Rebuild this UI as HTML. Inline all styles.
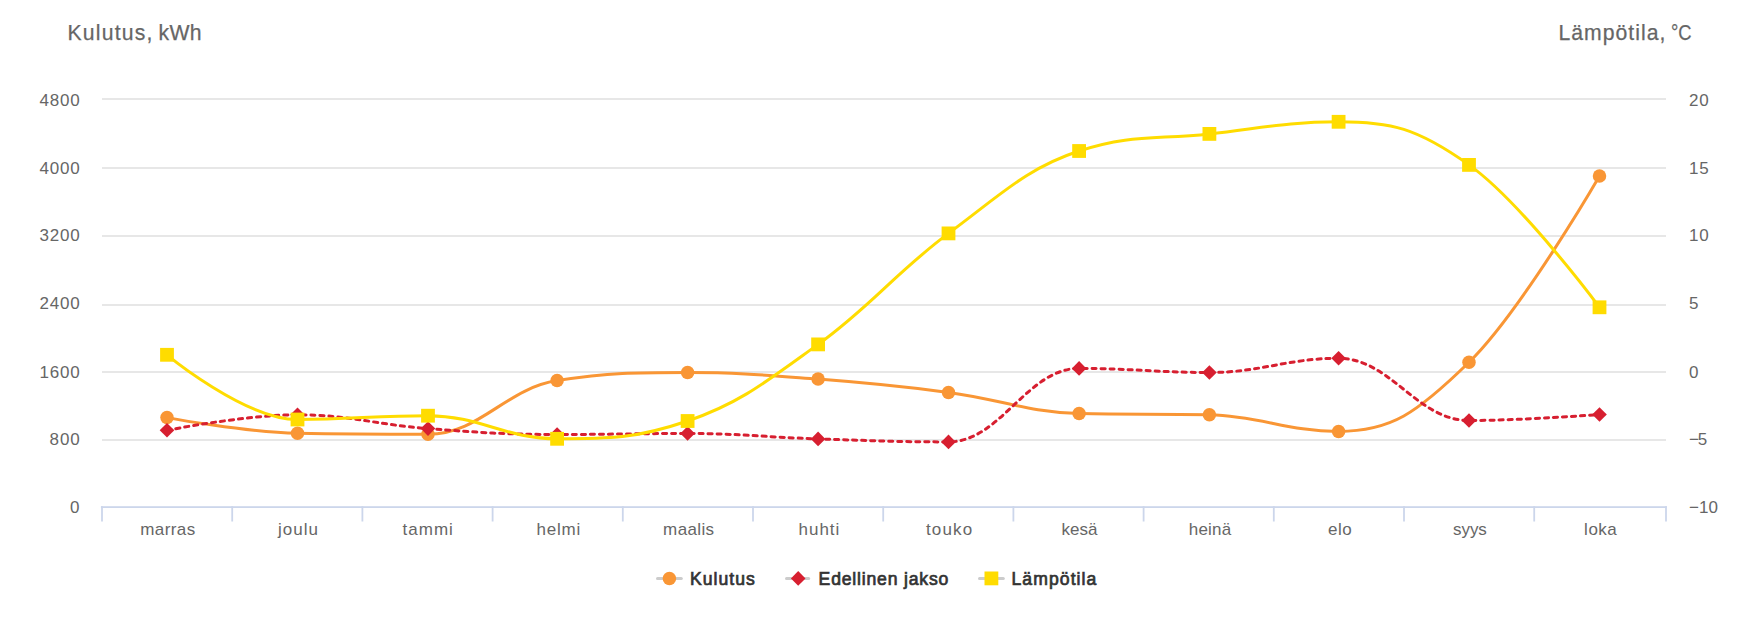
<!DOCTYPE html><html><head><meta charset="utf-8"><title>chart</title>
<style>html,body{margin:0;padding:0;background:#fff;}body{width:1744px;height:618px;overflow:hidden;}svg{display:block;position:absolute;left:0;top:0;}text{font-family:"Liberation Sans",sans-serif;}</style></head><body>
<svg width="1744" height="618" viewBox="0 0 1744 618">
<rect x="0" y="0" width="1744" height="618" fill="#ffffff"/>
<rect x="102.0" y="98.0" width="1564.0" height="2" fill="#e7e7e7"/>
<rect x="102.0" y="167.0" width="1564.0" height="2" fill="#e7e7e7"/>
<rect x="102.0" y="235.0" width="1564.0" height="2" fill="#e7e7e7"/>
<rect x="102.0" y="304.0" width="1564.0" height="2" fill="#e7e7e7"/>
<rect x="102.0" y="371.0" width="1564.0" height="2" fill="#e7e7e7"/>
<rect x="102.0" y="439.0" width="1564.0" height="2" fill="#e7e7e7"/>
<rect x="100.9" y="506.2" width="1566.0" height="1.8" fill="#ccd6eb"/>
<rect x="101.10" y="506.2" width="1.8" height="15.3" fill="#ccd6eb"/>
<rect x="231.30" y="506.2" width="1.8" height="15.3" fill="#ccd6eb"/>
<rect x="361.50" y="506.2" width="1.8" height="15.3" fill="#ccd6eb"/>
<rect x="491.70" y="506.2" width="1.8" height="15.3" fill="#ccd6eb"/>
<rect x="621.90" y="506.2" width="1.8" height="15.3" fill="#ccd6eb"/>
<rect x="752.10" y="506.2" width="1.8" height="15.3" fill="#ccd6eb"/>
<rect x="882.30" y="506.2" width="1.8" height="15.3" fill="#ccd6eb"/>
<rect x="1012.50" y="506.2" width="1.8" height="15.3" fill="#ccd6eb"/>
<rect x="1142.70" y="506.2" width="1.8" height="15.3" fill="#ccd6eb"/>
<rect x="1272.90" y="506.2" width="1.8" height="15.3" fill="#ccd6eb"/>
<rect x="1403.10" y="506.2" width="1.8" height="15.3" fill="#ccd6eb"/>
<rect x="1533.30" y="506.2" width="1.8" height="15.3" fill="#ccd6eb"/>
<rect x="1665.10" y="506.2" width="1.8" height="15.3" fill="#ccd6eb"/>
<text x="67.4" y="40" fill="#666666" font-size="21.2" stroke="#666666" stroke-width="0.25" textLength="85" lengthAdjust="spacing">Kulutus,</text>
<text x="158.6" y="40" fill="#666666" font-size="21.2" stroke="#666666" stroke-width="0.25" textLength="43" lengthAdjust="spacing">kWh</text>
<text x="1558.4" y="40" fill="#666666" font-size="21.2" stroke="#666666" stroke-width="0.25" textLength="107" lengthAdjust="spacing">Lämpötila,</text>
<text x="1671.0" y="40" fill="#666666" font-size="21.2" stroke="#666666" stroke-width="0.25" textLength="20.6" lengthAdjust="spacingAndGlyphs">°C</text>
<text x="39.4" y="105.8" fill="#666666" font-size="17" textLength="40.4" lengthAdjust="spacing">4800</text>
<text x="39.4" y="174.0" fill="#666666" font-size="17" textLength="40.4" lengthAdjust="spacing">4000</text>
<text x="39.4" y="240.8" fill="#666666" font-size="17" textLength="40.4" lengthAdjust="spacing">3200</text>
<text x="39.4" y="309.4" fill="#666666" font-size="17" textLength="40.4" lengthAdjust="spacing">2400</text>
<text x="39.4" y="377.6" fill="#666666" font-size="17" textLength="40.4" lengthAdjust="spacing">1600</text>
<text x="49.6" y="444.7" fill="#666666" font-size="17" textLength="30.2" lengthAdjust="spacing">800</text>
<text x="70.0" y="512.8" fill="#666666" font-size="17" textLength="9.8" lengthAdjust="spacing">0</text>
<text x="1689" y="105.8" fill="#666666" font-size="17" textLength="19.8" lengthAdjust="spacing">20</text>
<text x="1689" y="174.0" fill="#666666" font-size="17" textLength="19.8" lengthAdjust="spacing">15</text>
<text x="1689" y="240.8" fill="#666666" font-size="17" textLength="19.8" lengthAdjust="spacing">10</text>
<text x="1689" y="309.4" fill="#666666" font-size="17">5</text>
<text x="1689" y="377.6" fill="#666666" font-size="17">0</text>
<text x="1689" y="444.7" fill="#666666" font-size="17" textLength="18.2" lengthAdjust="spacing">−5</text>
<text x="1689" y="512.8" fill="#666666" font-size="17" textLength="29.0" lengthAdjust="spacing">−10</text>
<text x="140.2" y="534.7" fill="#666666" font-size="17" textLength="55.0" lengthAdjust="spacing">marras</text>
<text x="278.1" y="534.7" fill="#666666" font-size="17" textLength="39.8" lengthAdjust="spacing">joulu</text>
<text x="402.6" y="534.7" fill="#666666" font-size="17" textLength="50.3" lengthAdjust="spacing">tammi</text>
<text x="536.6" y="534.7" fill="#666666" font-size="17" textLength="43.6" lengthAdjust="spacing">helmi</text>
<text x="663.1" y="534.7" fill="#666666" font-size="17" textLength="51.0" lengthAdjust="spacing">maalis</text>
<text x="798.6" y="534.7" fill="#666666" font-size="17" textLength="40.6" lengthAdjust="spacing">huhti</text>
<text x="925.9" y="534.7" fill="#666666" font-size="17" textLength="46.3" lengthAdjust="spacing">touko</text>
<text x="1061.5" y="534.7" fill="#666666" font-size="17" textLength="35.9" lengthAdjust="spacing">kesä</text>
<text x="1188.8" y="534.7" fill="#666666" font-size="17" textLength="42.3" lengthAdjust="spacing">heinä</text>
<text x="1328.1" y="534.7" fill="#666666" font-size="17" textLength="23.7" lengthAdjust="spacing">elo</text>
<text x="1453.1" y="534.7" fill="#666666" font-size="17" textLength="33.7" lengthAdjust="spacing">syys</text>
<text x="1584.1" y="534.7" fill="#666666" font-size="17" textLength="32.7" lengthAdjust="spacing">loka</text>
<path d="M 167.00 417.60 C 167.00 417.60 245.30 432.30 297.50 433.30 C 349.70 434.30 375.80 434.30 428.00 434.30 C 479.64 434.30 505.46 388.70 557.10 380.60 C 609.30 372.50 635.40 372.50 687.60 372.50 C 739.80 372.50 765.90 375.12 818.10 379.10 C 870.26 383.08 896.34 385.53 948.50 392.40 C 1000.74 399.29 1026.86 412.20 1079.10 413.50 C 1131.22 414.80 1157.28 413.50 1209.40 414.80 C 1261.08 416.10 1286.92 431.40 1338.60 431.40 C 1390.76 431.40 1416.84 413.36 1469.00 362.30 C 1521.20 311.20 1599.50 176.00 1599.50 176.00" fill="none" stroke="#f99635" stroke-width="3" stroke-linejoin="round" stroke-linecap="round"/>
<circle cx="167.00" cy="417.60" r="6.75" fill="#f99635"/>
<circle cx="297.50" cy="433.30" r="6.75" fill="#f99635"/>
<circle cx="428.00" cy="434.30" r="6.75" fill="#f99635"/>
<circle cx="557.10" cy="380.60" r="6.75" fill="#f99635"/>
<circle cx="687.60" cy="372.50" r="6.75" fill="#f99635"/>
<circle cx="818.10" cy="379.10" r="6.75" fill="#f99635"/>
<circle cx="948.50" cy="392.40" r="6.75" fill="#f99635"/>
<circle cx="1079.10" cy="413.50" r="6.75" fill="#f99635"/>
<circle cx="1209.40" cy="414.80" r="6.75" fill="#f99635"/>
<circle cx="1338.60" cy="431.40" r="6.75" fill="#f99635"/>
<circle cx="1469.00" cy="362.30" r="6.75" fill="#f99635"/>
<circle cx="1599.50" cy="176.00" r="6.75" fill="#f99635"/>
<path d="M 167.00 430.30 C 167.00 430.30 245.30 414.80 297.50 414.80 C 349.70 414.80 375.80 424.64 428.00 428.60 C 479.64 432.52 505.46 434.50 557.10 434.50 C 609.30 434.50 635.40 433.50 687.60 433.50 C 739.80 433.50 765.90 437.22 818.10 438.90 C 870.26 440.58 896.34 441.90 948.50 441.90 C 1000.74 441.90 1026.86 368.40 1079.10 368.40 C 1131.22 368.40 1157.28 372.50 1209.40 372.50 C 1261.08 372.50 1286.92 358.30 1338.60 358.30 C 1390.76 358.30 1416.84 420.50 1469.00 420.50 C 1521.20 420.50 1599.50 414.50 1599.50 414.50" fill="none" stroke="#d71f30" stroke-width="3" stroke-dasharray="4.1 4.95" stroke-linecap="round" stroke-linejoin="round"/>
<path d="M 167.00 423.00 L 174.30 430.30 L 167.00 437.60 L 159.70 430.30 Z" fill="#d71f30"/>
<path d="M 297.50 407.50 L 304.80 414.80 L 297.50 422.10 L 290.20 414.80 Z" fill="#d71f30"/>
<path d="M 428.00 421.30 L 435.30 428.60 L 428.00 435.90 L 420.70 428.60 Z" fill="#d71f30"/>
<path d="M 557.10 427.20 L 564.40 434.50 L 557.10 441.80 L 549.80 434.50 Z" fill="#d71f30"/>
<path d="M 687.60 426.20 L 694.90 433.50 L 687.60 440.80 L 680.30 433.50 Z" fill="#d71f30"/>
<path d="M 818.10 431.60 L 825.40 438.90 L 818.10 446.20 L 810.80 438.90 Z" fill="#d71f30"/>
<path d="M 948.50 434.60 L 955.80 441.90 L 948.50 449.20 L 941.20 441.90 Z" fill="#d71f30"/>
<path d="M 1079.10 361.10 L 1086.40 368.40 L 1079.10 375.70 L 1071.80 368.40 Z" fill="#d71f30"/>
<path d="M 1209.40 365.20 L 1216.70 372.50 L 1209.40 379.80 L 1202.10 372.50 Z" fill="#d71f30"/>
<path d="M 1338.60 351.00 L 1345.90 358.30 L 1338.60 365.60 L 1331.30 358.30 Z" fill="#d71f30"/>
<path d="M 1469.00 413.20 L 1476.30 420.50 L 1469.00 427.80 L 1461.70 420.50 Z" fill="#d71f30"/>
<path d="M 1599.50 407.20 L 1606.80 414.50 L 1599.50 421.80 L 1592.20 414.50 Z" fill="#d71f30"/>
<path d="M 167.00 354.80 C 167.00 354.80 245.30 419.50 297.50 419.50 C 349.70 419.50 375.80 415.70 428.00 415.70 C 479.64 415.70 505.46 438.80 557.10 438.80 C 609.30 438.80 635.40 438.80 687.60 421.00 C 739.80 403.20 765.90 381.93 818.10 344.40 C 870.26 306.89 896.34 272.05 948.50 233.40 C 1000.74 194.69 1026.86 168.10 1079.10 151.00 C 1131.22 133.90 1157.28 139.76 1209.40 133.90 C 1261.08 128.08 1286.92 121.80 1338.60 121.80 C 1390.76 121.80 1416.84 127.81 1469.00 164.90 C 1521.20 202.01 1599.50 307.30 1599.50 307.30" fill="none" stroke="#ffdc00" stroke-width="3" stroke-linejoin="round" stroke-linecap="round"/>
<rect x="160.10" y="347.90" width="13.80" height="13.80" fill="#ffdc00"/>
<rect x="290.60" y="412.60" width="13.80" height="13.80" fill="#ffdc00"/>
<rect x="421.10" y="408.80" width="13.80" height="13.80" fill="#ffdc00"/>
<rect x="550.20" y="431.90" width="13.80" height="13.80" fill="#ffdc00"/>
<rect x="680.70" y="414.10" width="13.80" height="13.80" fill="#ffdc00"/>
<rect x="811.20" y="337.50" width="13.80" height="13.80" fill="#ffdc00"/>
<rect x="941.60" y="226.50" width="13.80" height="13.80" fill="#ffdc00"/>
<rect x="1072.20" y="144.10" width="13.80" height="13.80" fill="#ffdc00"/>
<rect x="1202.50" y="127.00" width="13.80" height="13.80" fill="#ffdc00"/>
<rect x="1331.70" y="114.90" width="13.80" height="13.80" fill="#ffdc00"/>
<rect x="1462.10" y="158.00" width="13.80" height="13.80" fill="#ffdc00"/>
<rect x="1592.60" y="300.40" width="13.80" height="13.80" fill="#ffdc00"/>
<line x1="657.5" y1="578.4" x2="681.3" y2="578.4" stroke="#cccccc" stroke-width="3" stroke-linecap="round"/>
<circle cx="669.40" cy="578.40" r="6.75" fill="#f99635"/>
<text x="690" y="584.8" fill="#333333" font-size="17.6" stroke="#333333" stroke-width="0.7" textLength="64.8" lengthAdjust="spacing">Kulutus</text>
<line x1="786.5" y1="578.4" x2="808.7" y2="578.4" stroke="#cccccc" stroke-width="3" stroke-linecap="round"/>
<path d="M 798.20 571.10 L 805.50 578.40 L 798.20 585.70 L 790.90 578.40 Z" fill="#d71f30"/>
<text x="818.6" y="584.8" fill="#333333" font-size="17.6" stroke="#333333" stroke-width="0.7" textLength="129.7" lengthAdjust="spacing">Edellinen jakso</text>
<line x1="979.5" y1="578.4" x2="1003.3" y2="578.4" stroke="#cccccc" stroke-width="3" stroke-linecap="round"/>
<rect x="984.50" y="571.50" width="13.80" height="13.80" fill="#ffdc00"/>
<text x="1011.4" y="584.8" fill="#333333" font-size="17.6" stroke="#333333" stroke-width="0.7" textLength="85.0" lengthAdjust="spacing">Lämpötila</text>
</svg></body></html>
